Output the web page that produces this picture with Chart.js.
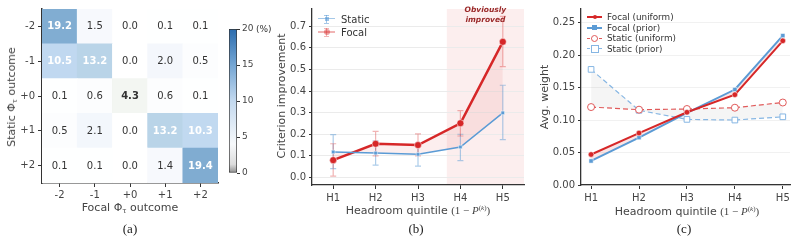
<!DOCTYPE html>
<html>
<head>
<meta charset="utf-8">
<script src="https://cdn.jsdelivr.net/npm/chart.js@4.4.1/dist/chart.umd.min.js"></script>
<style>
  body { margin: 0; width: 800px; height: 243px; background: #fff; position: relative; overflow: hidden;
         font-family: 'DejaVu Sans', sans-serif; color: #444; }
  canvas { position: absolute; top: 0; }
  .t { position: absolute; white-space: nowrap; font-size: 11px; color: #444; transform: translate(-50%, -50%); }
  .rot { transform: translate(-50%, -50%) rotate(-90deg); }
  .cap { font-family: 'Liberation Serif', serif; font-size: 13px; color: #222; }
  .m { font-family: 'Liberation Serif', serif; }
  sub { font-size: 7px; vertical-align: -2px; }
  .lg { position: absolute; font-size: 10px; color: #333; white-space: nowrap; }
  .lg2 { position: absolute; font-size: 8.8px; color: #333; white-space: nowrap; }
</style>
</head>
<body>
<canvas id="heat" width="222" height="243" style="left:0"></canvas>
<canvas id="cbar" width="48" height="243" style="left:222px"></canvas>
<canvas id="crit" width="270" height="243" style="left:262px"></canvas>
<canvas id="wts" width="268" height="243" style="left:532px"></canvas>

<div class="t rot" style="left:12px;top:97px">Static Φ<sub>τ</sub> outcome</div>
<div class="t" style="left:130px;top:208px">Focal Φ<sub>τ</sub> outcome</div>
<div class="t cap" style="left:130px;top:229px">(a)</div>
<div class="lg" style="left:256px;top:24px;font-size:9px">(%)</div>

<div class="t rot" style="left:281px;top:96px">Criterion improvement</div>
<div class="t" style="left:418px;top:210px">Headroom quintile <span class="m">(1 − <i>P</i><sup style="font-size:7px">(<i>k</i>)</sup>)</span></div>
<div class="t cap" style="left:416px;top:229px">(b)</div>

<div class="t rot" style="left:544px;top:97px">Avg. weight</div>
<div class="t" style="left:687px;top:211px">Headroom quintile <span class="m">(1 − <i>P</i><sup style="font-size:7px">(<i>k</i>)</sup>)</span></div>
<div class="t cap" style="left:684px;top:229px">(c)</div>

<div id="legB"></div>
<div id="legC"></div>

<script>
Chart.defaults.font.family = "'DejaVu Sans', sans-serif";
Chart.defaults.color = '#444';
Chart.defaults.animation = false;

// ---- data ----
const OUTCOMES = ['-2', '-1', '+0', '+1', '+2'];
// rows: static outcome -2..+2, cols: focal outcome -2..+2 (%)
const HEAT_ROW_M2 = [19.2, 1.5, 0.0, 0.1, 0.1];
const HEAT_ROW_M1 = [10.5, 13.2, 0.0, 2.0, 0.5];
const HEAT_ROW_0  = [0.1, 0.6, 4.3, 0.6, 0.1];
const HEAT_ROW_P1 = [0.5, 2.1, 0.0, 13.2, 10.3];
const HEAT_ROW_P2 = [0.1, 0.1, 0.0, 1.4, 19.4];
const HEAT_ROWS = [HEAT_ROW_M2, HEAT_ROW_M1, HEAT_ROW_0, HEAT_ROW_P1, HEAT_ROW_P2];
const CBAR_TICKS = [0, 5, 10, 15, 20];

const QUINTILES = ['H1', 'H2', 'H3', 'H4', 'H5'];
const STATIC_MEAN = [0.118, 0.113, 0.107, 0.141, 0.299];
const STATIC_LO   = [0.041, 0.057, 0.052, 0.078, 0.175];
const STATIC_HI   = [0.198, 0.170, 0.160, 0.200, 0.427];
const FOCAL_MEAN  = [0.080, 0.156, 0.150, 0.251, 0.628];
const FOCAL_LO    = [0.006, 0.100, 0.100, 0.192, 0.513];
const FOCAL_HI    = [0.156, 0.213, 0.202, 0.309, 0.746];
const CRIT_TICKS  = [0, 0.1, 0.2, 0.3, 0.4, 0.5, 0.6, 0.7];
const IMPROVED_FROM = 2.68;   // start of "Obviously improved" band (quintile index)

const FOCAL_UNIFORM  = [0.047, 0.080, 0.112, 0.139, 0.222];
const FOCAL_PRIOR    = [0.037, 0.073, 0.111, 0.147, 0.230];
const STATIC_UNIFORM = [0.120, 0.116, 0.117, 0.119, 0.127];
const STATIC_PRIOR   = [0.178, 0.115, 0.101, 0.100, 0.105];
const WEIGHT_TICKS   = [0, 0.05, 0.10, 0.15, 0.20, 0.25];

const RED = '#d62728', BLUE = '#5b9bd5';
const pts = arr => arr.map((y, i) => ({ x: i, y }));

function fitAxis(w, h) {
  return s => { if (w !== undefined) s.width = w; if (h !== undefined) s.height = h; };
}

// ---- (a) heatmap ----
function cellColor(v, r, c) {
  if (r === 2 && c === 2) return '#f3f6f2';
  const stops = [[0, [255, 255, 255]], [2, [244, 247, 252]], [10.5, [192, 216, 240]], [13.2, [185, 212, 232]], [20, [122, 168, 207]]];
  for (let i = 1; i < stops.length; i++) {
    if (v <= stops[i][0]) {
      const [a, ca] = stops[i - 1], [b, cb] = stops[i];
      const t = (v - a) / (b - a);
      return 'rgb(' + ca.map((x, k) => Math.round(x + (cb[k] - x) * t)).join(',') + ')';
    }
  }
  return 'rgb(122,168,207)';
}

const heatSets = HEAT_ROWS.map((row, r) => ({
  label: OUTCOMES[r], values: row, rowIdx: r,
  data: row.map(() => 1),
  backgroundColor: row.map((v, c) => cellColor(v, r, c)),
  borderWidth: 0, barPercentage: 1, categoryPercentage: 1
})).reverse();

const cellText = {
  id: 'cellText',
  afterDatasetsDraw(chart) {
    const ctx = chart.ctx;
    ctx.save();
    ctx.textAlign = 'center'; ctx.textBaseline = 'middle';
    chart.data.datasets.forEach((ds, i) => {
      chart.getDatasetMeta(i).data.forEach((bar, c) => {
        const v = ds.values[c];
        const diag = c === ds.rowIdx;
        ctx.fillStyle = v > 8 ? '#fff' : '#333';
        ctx.font = (v > 8 || diag ? 'bold ' : '') + "10px 'DejaVu Sans'";
        ctx.fillText(v.toFixed(1), bar.x, (bar.y + bar.base) / 2 + 0.5);
      });
    });
    ctx.restore();
  }
};

new Chart('heat', {
  type: 'bar',
  data: { labels: OUTCOMES, datasets: heatSets },
  options: {
    responsive: false,
    layout: { padding: { left: 0, right: 4, top: 8, bottom: 0 } },
    plugins: { legend: { display: false }, tooltip: { enabled: false } },
    scales: {
      x: { stacked: true, afterFit: fitAxis(undefined, 60),
           grid: { drawOnChartArea: false, offset: false, tickLength: 4, color: '#333' },
           border: { color: '#333', width: 1.5 },
           ticks: { font: { size: 10 }, color: '#444', padding: 2 } },
      y: { stacked: true, min: 0, max: 5, afterFit: fitAxis(42),
           afterBuildTicks: s => { s.ticks = OUTCOMES.map((_, i) => ({ value: 4.5 - i })); },
           grid: { drawOnChartArea: false, tickLength: 4, color: '#333' },
           border: { color: '#333', width: 1.5 },
           ticks: { font: { size: 10 }, color: '#444', padding: 3, autoSkip: false,
                    callback: v => OUTCOMES[Math.round(4.5 - v)] } }
    }
  },
  plugins: [cellText]
});

// colorbar
new Chart('cbar', {
  type: 'bar',
  data: { labels: [''], datasets: [{ data: [CBAR_TICKS[CBAR_TICKS.length - 1]],
    backgroundColor: c => {
      const a = c.chart.chartArea; if (!a) return '#fff';
      const g = c.chart.ctx.createLinearGradient(0, a.bottom, 0, a.top);
      g.addColorStop(0, '#8c8c8c'); g.addColorStop(0.06, '#dcdcdc'); g.addColorStop(0.2, '#f7f9fb');
      g.addColorStop(0.5, '#c3d9ef'); g.addColorStop(0.75, '#74a6d4'); g.addColorStop(1, '#2b6cae');
      return g;
    },
    borderColor: '#333', borderWidth: 1, borderSkipped: false, barPercentage: 1, categoryPercentage: 1 }] },
  options: {
    responsive: false,
    layout: { padding: { left: 7, right: 0, top: 29, bottom: 70 } },
    plugins: { legend: { display: false }, tooltip: { enabled: false } },
    scales: {
      x: { display: false },
      y: { position: 'right', min: 0, max: 20, afterFit: fitAxis(33),
           afterBuildTicks: s => { s.ticks = CBAR_TICKS.map(v => ({ value: v })); },
           grid: { drawOnChartArea: false, tickLength: 3, color: '#333' },
           border: { display: false },
           ticks: { font: { size: 9 }, color: '#444', padding: 2 } }
    }
  }
});

// ---- (b) criterion improvement ----
const bandAndErrors = {
  id: 'bandAndErrors',
  beforeDraw(chart) {
    const { ctx, chartArea: a, scales: { x } } = chart;
    ctx.save();
    ctx.fillStyle = 'rgba(230,120,120,0.13)';
    const x0 = x.getPixelForValue(IMPROVED_FROM);
    ctx.fillRect(x0, a.top, a.right - x0, a.bottom - a.top);
    ctx.restore();
  },
  beforeDatasetsDraw(chart) {
    const { ctx, scales: { x, y } } = chart;
    const bars = [[STATIC_LO, STATIC_HI, 'rgba(91,155,213,0.5)'], [FOCAL_LO, FOCAL_HI, 'rgba(214,39,40,0.35)']];
    ctx.save();
    ctx.lineWidth = 1.2;
    bars.forEach(([lo, hi, col]) => {
      ctx.strokeStyle = col;
      lo.forEach((l, i) => {
        const px = x.getPixelForValue(i), p0 = y.getPixelForValue(l), p1 = y.getPixelForValue(hi[i]);
        ctx.beginPath();
        ctx.moveTo(px, p0); ctx.lineTo(px, p1);
        ctx.moveTo(px - 3, p0); ctx.lineTo(px + 3, p0);
        ctx.moveTo(px - 3, p1); ctx.lineTo(px + 3, p1);
        ctx.stroke();
      });
    });
    ctx.restore();
  },
  afterDraw(chart) {
    const { ctx, chartArea: a, scales: { x } } = chart;
    const cx = (x.getPixelForValue(IMPROVED_FROM) + a.right) / 2;
    ctx.save();
    ctx.fillStyle = '#9b2a2a';
    ctx.font = "italic bold 7.5px 'DejaVu Sans'";
    ctx.textAlign = 'center'; ctx.textBaseline = 'middle';
    ctx.fillText('Obviously', cx, 10);
    ctx.fillText('improved', cx, 20);
    ctx.restore();
  }
};

const xQuint = (min, max, h) => ({
  type: 'linear', min, max, afterFit: fitAxis(undefined, h),
  afterBuildTicks: s => { s.ticks = QUINTILES.map((_, i) => ({ value: i })); },
  grid: { drawOnChartArea: false, tickLength: 4, color: '#333' },
  border: { color: '#333', width: 1.3 },
  ticks: { font: { size: 10 }, color: '#444', padding: 3, callback: v => QUINTILES[v] }
});

new Chart('crit', {
  type: 'line',
  data: { datasets: [
    { label: 'Static', data: pts(STATIC_MEAN), borderColor: BLUE, backgroundColor: BLUE, borderWidth: 1.5,
      pointStyle: 'rect', pointRadius: 2.5, pointBorderColor: '#fff', pointBorderWidth: 0.5, fill: false },
    { label: 'Focal', data: pts(FOCAL_MEAN), borderColor: RED, backgroundColor: 'rgba(214,39,40,0.08)', borderWidth: 2.5,
      pointBackgroundColor: RED, pointRadius: 3.5, pointBorderColor: '#fff', pointBorderWidth: 0.5, fill: 0 }
  ] },
  options: {
    responsive: false,
    layout: { padding: { left: 0, right: 8, top: 7, bottom: 0 } },
    plugins: { legend: { display: false }, tooltip: { enabled: false } },
    scales: {
      x: xQuint(-0.5, 4.5, 58),
      y: { min: -0.035, max: 0.78, afterFit: fitAxis(50),
           afterBuildTicks: s => { s.ticks = CRIT_TICKS.map(v => ({ value: v })); },
           grid: { color: '#ebebeb', tickLength: 3, tickColor: '#333' },
           border: { color: '#333', width: 1.3 },
           ticks: { font: { size: 10 }, color: '#444', padding: 3, callback: v => v.toFixed(1) } }
    }
  },
  plugins: [bandAndErrors]
});

// ---- (c) avg weight ----
new Chart('wts', {
  type: 'line',
  data: { datasets: [
    { label: 'Focal (uniform)', data: pts(FOCAL_UNIFORM), borderColor: RED, borderWidth: 2,
      pointBackgroundColor: RED, pointBorderColor: '#fff', pointBorderWidth: 0.5, pointRadius: 2.8, fill: false },
    { label: 'Focal (prior)', data: pts(FOCAL_PRIOR), borderColor: BLUE, borderWidth: 2,
      pointStyle: 'rect', pointBackgroundColor: BLUE, pointBorderColor: '#fff', pointBorderWidth: 0.5, pointRadius: 3,
      fill: { target: 0 }, backgroundColor: 'rgba(214,39,40,0.12)' },
    { label: 'Static (uniform)', data: pts(STATIC_UNIFORM), borderColor: '#e05a5a', borderWidth: 1.2, borderDash: [5, 3],
      pointBackgroundColor: '#fff', pointBorderColor: '#e05a5a', pointBorderWidth: 1, pointRadius: 3.5, fill: false },
    { label: 'Static (prior)', data: pts(STATIC_PRIOR), borderColor: '#86b6e3', borderWidth: 1.2, borderDash: [5, 3],
      pointStyle: 'rect', pointBackgroundColor: '#fff', pointBorderColor: '#86b6e3', pointBorderWidth: 1, pointRadius: 4,
      fill: { target: 2 }, backgroundColor: 'rgba(0,0,0,0.04)' }
  ] },
  options: {
    responsive: false,
    layout: { padding: { left: 0, right: 10, top: 7, bottom: 0 } },
    plugins: { legend: { display: false }, tooltip: { enabled: false } },
    scales: {
      x: xQuint(-0.21, 4.15, 58),
      y: { min: 0, max: 0.271, afterFit: fitAxis(49),
           afterBuildTicks: s => { s.ticks = WEIGHT_TICKS.map(v => ({ value: v })); },
           grid: { color: '#f1f1f1', tickLength: 3, tickColor: '#333' },
           border: { color: '#333', width: 1.3 },
           ticks: { font: { size: 10 }, color: '#444', padding: 3, callback: v => v.toFixed(2) } }
    }
  }
});

// ---- legends (html) ----
function legendRow(parent, cls, x0, x1, y, tx, label, line, marker) {
  const el = document.createElement('div');
  el.innerHTML =
    `<div style="position:absolute;left:${x0}px;top:${y - line.w / 2}px;width:${x1 - x0}px;height:0;border-top:${line.w}px ${line.dash ? 'dashed' : 'solid'} ${line.c}"></div>` +
    (line.err ? `<div style="position:absolute;left:${(x0 + x1) / 2 - 3}px;top:${y - 4}px;width:5px;height:7px;border-top:1px solid ${line.c};border-bottom:1px solid ${line.c}"></div>` +
                `<div style="position:absolute;left:${(x0 + x1) / 2 - 0.5}px;top:${y - 4}px;width:0;height:8px;border-left:1px solid ${line.c}"></div>` : '') +
    `<div style="position:absolute;left:${(x0 + x1) / 2 - marker.s / 2 - marker.bw}px;top:${y - marker.s / 2 - marker.bw}px;width:${marker.s}px;height:${marker.s}px;` +
    `background:${marker.bg};border:${marker.bw}px solid ${marker.bc};border-radius:${marker.round ? '50%' : '0'}"></div>` +
    `<div class="${cls}" style="left:${tx}px;top:${y}px;transform:translateY(-50%)">${label}</div>`;
  parent.appendChild(el);
}
const legB = document.getElementById('legB');
legendRow(legB, 'lg', 318, 335, 19, 341, 'Static', { w: 1.5, c: 'rgba(91,155,213,0.55)', err: true },
  { s: 4, bg: 'rgba(91,155,213,0.6)', bc: 'transparent', bw: 0 });
legendRow(legB, 'lg', 318, 335, 32, 341, 'Focal', { w: 2.5, c: 'rgba(214,39,40,0.35)', err: true },
  { s: 6, bg: 'rgba(214,39,40,0.45)', bc: 'transparent', bw: 0, round: true });
const legC = document.getElementById('legC');
legendRow(legC, 'lg2', 587, 602, 17, 607, 'Focal (uniform)', { w: 2, c: RED }, { s: 4, bg: RED, bc: '#fff', bw: 0, round: true });
legendRow(legC, 'lg2', 587, 602, 27.7, 607, 'Focal (prior)', { w: 2, c: BLUE }, { s: 5, bg: BLUE, bc: '#fff', bw: 0 });
legendRow(legC, 'lg2', 587, 602, 38.4, 607, 'Static (uniform)', { w: 1.2, c: '#e05a5a', dash: true }, { s: 5, bg: '#fff', bc: '#e05a5a', bw: 1, round: true });
legendRow(legC, 'lg2', 587, 602, 49, 607, 'Static (prior)', { w: 1.2, c: '#86b6e3', dash: true }, { s: 6, bg: '#fff', bc: '#86b6e3', bw: 1 });
</script>
</body>
</html>
